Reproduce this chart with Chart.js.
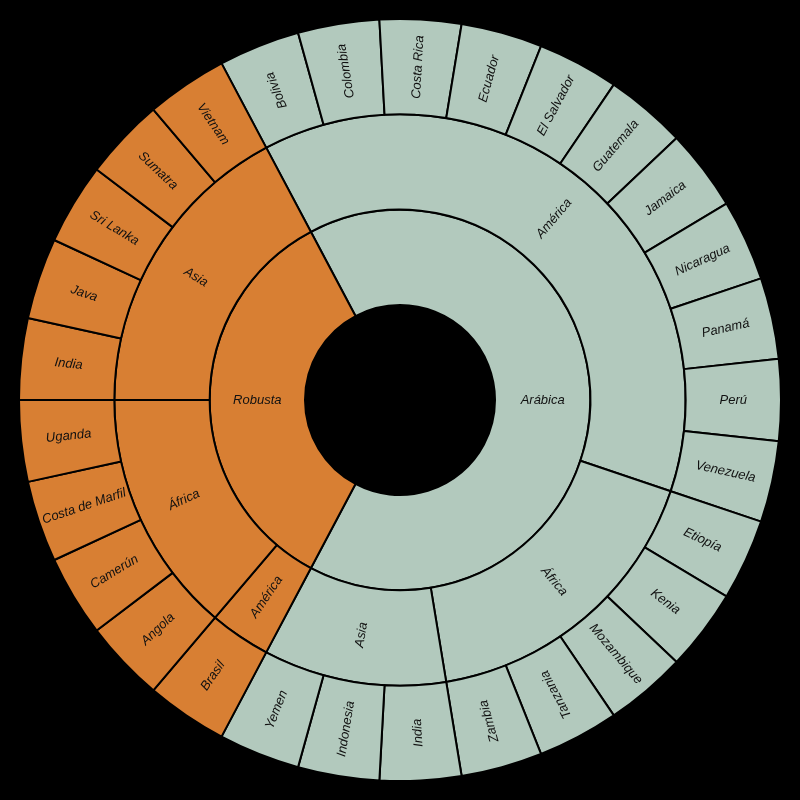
<!DOCTYPE html>
<html><head><meta charset="utf-8">
<script src="https://cdn.jsdelivr.net/npm/chart.js@4/dist/chart.umd.min.js"></script>
<style>html,body{margin:0;padding:0;background:#000;}canvas{display:block;}</style>
</head><body>
<canvas id="c" width="800" height="800"></canvas>
<script>
// Level 1: coffee species
const speciesNames = ['Arábica', 'Robusta'];
const speciesValues = [19, 10];
// Level 2: regions within each species
const regionNames = ['América', 'África', 'Asia', 'América', 'África', 'Asia'];
const regionValues = [11, 5, 3, 1, 4, 5];
const regionSpecies = [0, 0, 0, 1, 1, 1];
// Level 3: countries
const countryNames = ['Bolivia', 'Colombia', 'Costa Rica', 'Ecuador', 'El Salvador', 'Guatemala', 'Jamaica', 'Nicaragua', 'Panamá', 'Perú', 'Venezuela',
  'Etiopía', 'Kenia', 'Mozambique', 'Tanzania', 'Zambia',
  'India', 'Indonesia', 'Yemen',
  'Brasil',
  'Angola', 'Camerún', 'Costa de Marfil', 'Uganda',
  'India', 'Java', 'Sri Lanka', 'Sumatra', 'Vietnam'];
const countryValues = [1,1,1,1,1,1,1,1,1,1,1, 1,1,1,1,1, 1,1,1, 1, 1,1,1,1, 1,1,1,1,1];
const countrySpecies = [0,0,0,0,0,0,0,0,0,0,0, 0,0,0,0,0, 0,0,0, 1, 1,1,1,1, 1,1,1,1,1];

const speciesColors = ['#b2c9bd', '#d87f33'];
const ROT = -27.93;

const labelPlugin = {
  id: 'arcLabels',
  afterDatasetsDraw(chart) {
    const ctx = chart.ctx;
    const start = (ROT - 90) * Math.PI / 180;
    chart.data.datasets.forEach((ds, di) => {
      const meta = chart.getDatasetMeta(di);
      meta.data.forEach((arc, i) => {
        const p = arc.getProps(['x', 'y', 'startAngle', 'endAngle', 'innerRadius', 'outerRadius'], true);
        const mid = (p.startAngle + p.endAngle) / 2;
        const r = (p.innerRadius + p.outerRadius) / 2;
        const x = p.x + Math.cos(mid) * r;
        const y = p.y + Math.sin(mid) * r;
        let rel = (mid - start) % (2 * Math.PI);
        if (rel < 0) rel += 2 * Math.PI;
        const rot = rel < Math.PI - 1e-6 ? mid : mid + Math.PI;
        ctx.save();
        ctx.translate(x, y);
        ctx.rotate(rot);
        ctx.font = 'italic 13px "Liberation Sans", Arial, sans-serif';
        ctx.fillStyle = '#111';
        ctx.textAlign = 'center';
        ctx.textBaseline = 'middle';
        ctx.fillText(ds.names[i], 0, 0);
        ctx.restore();
      });
    });
  }
};

new Chart(document.getElementById('c'), {
  type: 'doughnut',
  data: {
    labels: countryNames,
    datasets: [
      { names: countryNames, data: countryValues, backgroundColor: countrySpecies.map(s => speciesColors[s]), borderColor: '#000', borderWidth: 2 },
      { names: regionNames, data: regionValues, backgroundColor: regionSpecies.map(s => speciesColors[s]), borderColor: '#000', borderWidth: 2 },
      { names: speciesNames, data: speciesValues, backgroundColor: speciesColors, borderColor: '#000', borderWidth: 2 }
    ]
  },
  options: {
    responsive: false,
    animation: false,
    rotation: ROT,
    cutout: 95,
    layout: { padding: 18 },
    events: [],
    plugins: { legend: { display: false }, tooltip: { enabled: false } }
  },
  plugins: [labelPlugin]
});
</script>
</body></html>
